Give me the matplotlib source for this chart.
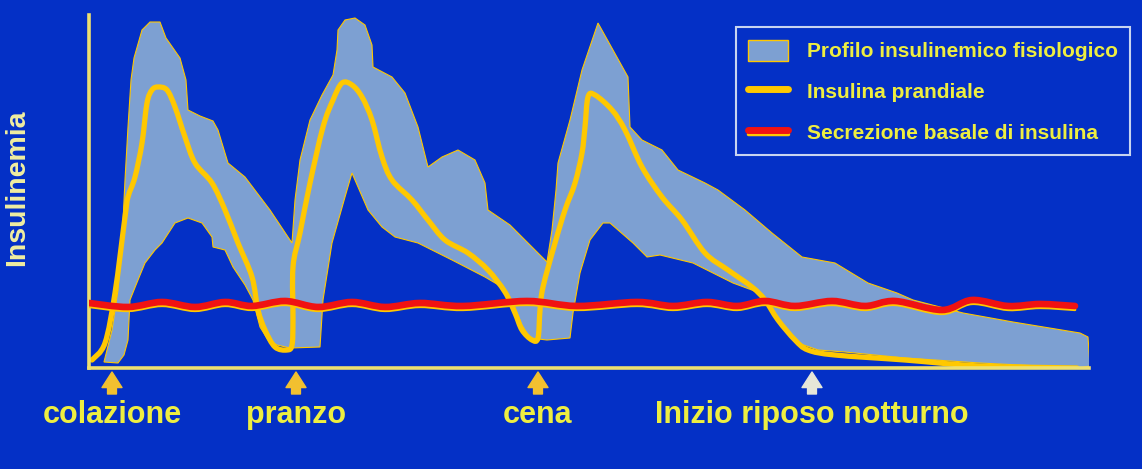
import numpy as np
import matplotlib
matplotlib.use("Agg")
import matplotlib.pyplot as plt
import matplotlib.patheffects as pe
from matplotlib.path import Path
from matplotlib.patches import PathPatch, Patch
from matplotlib.lines import Line2D

# schematic units: x = time along the day, y = insulin level (arbitrary)
# physiological profile band: upper outline (left -> right)
band_upper_x = [15, 23, 29, 33, 36, 39, 42, 45, 53, 61, 71, 77, 91, 97, 99, 111, 124, 129, 139, 156,
                181, 203, 206, 211, 221, 233, 244, 248, 249, 256, 266, 276, 283, 284, 303, 316, 329,
                339, 353, 369, 386, 396, 399, 421, 441, 458, 463, 467, 469, 481, 493, 509, 539, 541,
                553, 573, 589, 616, 629, 656, 683, 713, 746, 779, 808, 824, 874, 924, 991, 999, 1001]
band_upper_y = [6, 38, 78, 125, 188, 241, 288, 310, 338, 346, 346, 330, 310, 288, 258, 252, 247, 238, 205, 191,
                158, 125, 168, 208, 248, 273, 293, 318, 338, 348, 350, 343, 323, 301, 291, 275, 241,
                201, 211, 218, 208, 185, 158, 143, 123, 106, 138, 178, 205, 248, 298, 345, 291, 241,
                228, 218, 198, 185, 178, 158, 135, 111, 105, 85, 75, 68, 55, 46, 35, 31, 2]
# lower outline (left -> right)
band_lower_x = [29, 35, 39, 41, 49, 56, 66, 73, 86, 99, 113, 123, 124, 136, 144, 156, 164, 171, 179, 188,
                201, 231, 234, 243, 256, 263, 266, 279, 293, 306, 329, 363, 396, 413, 424, 433, 441,
                458, 481, 484, 491, 501, 514, 521, 544, 558, 571, 604, 644, 671, 684, 696, 709, 729,
                756, 816, 891, 991]
band_lower_y = [5, 13, 28, 68, 88, 105, 118, 125, 145, 150, 145, 131, 121, 118, 101, 83, 68, 41, 28, 23,
                20, 21, 68, 125, 171, 195, 188, 158, 141, 131, 125, 108, 91, 81, 65, 43, 30,
                28, 30, 55, 95, 128, 145, 145, 125, 111, 113, 105, 85, 75, 58, 38, 25, 18,
                16, 10, 5, 0]

# prandial insulin
prandial_x = [3, 16, 26, 36, 39, 46, 53, 58, 63, 69, 78, 86, 96, 106, 123, 136, 149, 163, 169, 176, 186,
              198, 203, 204, 204, 211, 221, 234, 244, 253, 263, 273, 283, 293, 303, 323, 339, 356, 379,
              399, 416, 426, 433, 443, 449, 451, 454, 466, 476, 486, 493, 496, 499, 506, 523, 536, 553,
              573, 593, 616, 639, 663, 676, 689, 706, 719, 746, 816, 891, 988]
prandial_y = [8, 25, 75, 151, 171, 191, 225, 265, 278, 281, 278, 261, 231, 205, 185, 158, 125, 91, 58, 38, 21,
              18, 23, 48, 101, 135, 185, 241, 268, 285, 283, 271, 248, 211, 188, 168, 148, 128, 115,
              98, 76, 55, 38, 28, 30, 58, 81, 125, 158, 185, 215, 241, 271, 273, 258, 238, 201,
              171, 148, 115, 98, 81, 68, 48, 28, 18, 13, 8, 2, 0]

# basal secretion (crests and troughs of the wave)
basal_x = [0, 39, 73, 106, 136, 163, 196, 229, 263, 296, 331, 374, 438, 488, 548, 584, 618, 648,
           676, 706, 743, 776, 806, 853, 883, 919, 951, 986]
basal_y = [65, 61, 66, 61, 66, 62, 67, 61, 66, 61, 65, 62, 67, 62, 66, 62, 66, 62,
           67, 62, 67, 62, 67, 58, 68, 62, 64, 62]

meal_x = [23, 207, 449, 723]
meal_labels = ["colazione", "pranzo", "cena", "Inizio riposo notturno"]
legend_labels = ["Profilo insulinemico fisiologico", "Insulina prandiale",
                 "Secrezione basale di insulina"]
y_label = "Insulinemia"

BG = "#0430C6"
BAND = "#7DA0D2"
GOLD = "#FFC800"
RED = "#F01212"
AXIS = "#EEE070"
TEXT = "#EEEE40"

plt.rcParams["font.family"] = ["Liberation Sans", "DejaVu Sans"]


def smooth_path(xs, ys):
    # Catmull-Rom curve through the points, drawn as cubic Bezier segments
    pts = np.column_stack([xs, ys]).astype(float)
    verts = [pts[0]]
    codes = [Path.MOVETO]
    n = len(pts)
    for i in range(n - 1):
        p0 = pts[max(i - 1, 0)]
        p1 = pts[i]
        p2 = pts[i + 1]
        p3 = pts[min(i + 2, n - 1)]
        verts += [p1 + (p2 - p0) / 6, p2 - (p3 - p1) / 6, p2]
        codes += [Path.CURVE4] * 3
    return Path(verts, codes)


fig = plt.figure(figsize=(11.42, 4.69), dpi=100, facecolor=BG)
ax = fig.add_axes([89 / 1142, 101 / 469, 1000 / 1142, 353 / 469])
ax.set_facecolor(BG)
ax.set_xlim(0, 1000)
ax.set_ylim(0, 353)

# band
bx = band_upper_x + band_lower_x[::-1]
by = band_upper_y + band_lower_y[::-1]
ax.fill(bx, by, facecolor=BAND, edgecolor=GOLD, linewidth=0.8, zorder=1)

# prandial line
ax.add_patch(PathPatch(smooth_path(prandial_x, prandial_y), fill=False, edgecolor=GOLD,
                       linewidth=3.8, capstyle="round", joinstyle="round", zorder=2))

# basal line with yellow underline
basal = PathPatch(smooth_path(basal_x, basal_y), fill=False, edgecolor=RED,
                  linewidth=4.8, capstyle="round", zorder=3)
basal.set_path_effects([pe.Stroke(linewidth=2.0, foreground=GOLD, offset=(0, -2.7)),
                        pe.Normal()])
ax.add_patch(basal)

for s in ["top", "right"]:
    ax.spines[s].set_visible(False)
for s in ["left", "bottom"]:
    ax.spines[s].set_color(AXIS)
    ax.spines[s].set_linewidth(2.6)
ax.set_xticks([])
ax.set_yticks([])

# meal arrows and labels
arrow_colors = ["#F2C030", "#F2C030", "#F2C030", "#E6E6D8"]
for x, lab, c in zip(meal_x, meal_labels, arrow_colors):
    ax.annotate("", xy=(x, -4), xytext=(x, -26), annotation_clip=False,
                arrowprops=dict(arrowstyle="simple,head_length=0.7,head_width=0.9,tail_width=0.4",
                                color=c, mutation_scale=16, shrinkA=0, shrinkB=0))
    ax.text(x, -47, lab, ha="center", va="center", color=TEXT, fontsize=22,
            fontweight="bold", clip_on=False)

fig.text(17 / 1142, 1 - 188 / 469, y_label, rotation=90, ha="center", va="center",
         color="#F0EEA0", fontsize=20.5, fontweight="bold")

# legend
band_handle = Patch(facecolor=BAND, edgecolor=GOLD, linewidth=1)
prandial_handle = Line2D([], [], color=GOLD, linewidth=5, solid_capstyle="round")
basal_handle = Line2D([], [], color=RED, linewidth=5, solid_capstyle="round")
basal_handle.set_path_effects([pe.Stroke(linewidth=2.5, foreground=GOLD, offset=(0, -2.5)),
                               pe.Normal()])
leg = ax.legend([band_handle, prandial_handle, basal_handle], legend_labels,
                loc="upper right", bbox_to_anchor=(1.041, 0.966), borderaxespad=0,
                frameon=True, fancybox=False, facecolor=BG, edgecolor="#C8D4F0",
                framealpha=1, handlelength=1.9, handleheight=1.2, handletextpad=0.9,
                labelspacing=0.92, borderpad=0.6,
                prop=dict(family=["Liberation Sans", "DejaVu Sans"], weight="bold", size=15))
leg.get_frame().set_linewidth(1.5)
for t in leg.get_texts():
    t.set_color(TEXT)

fig.savefig("out.png", dpi=100, facecolor=BG)
